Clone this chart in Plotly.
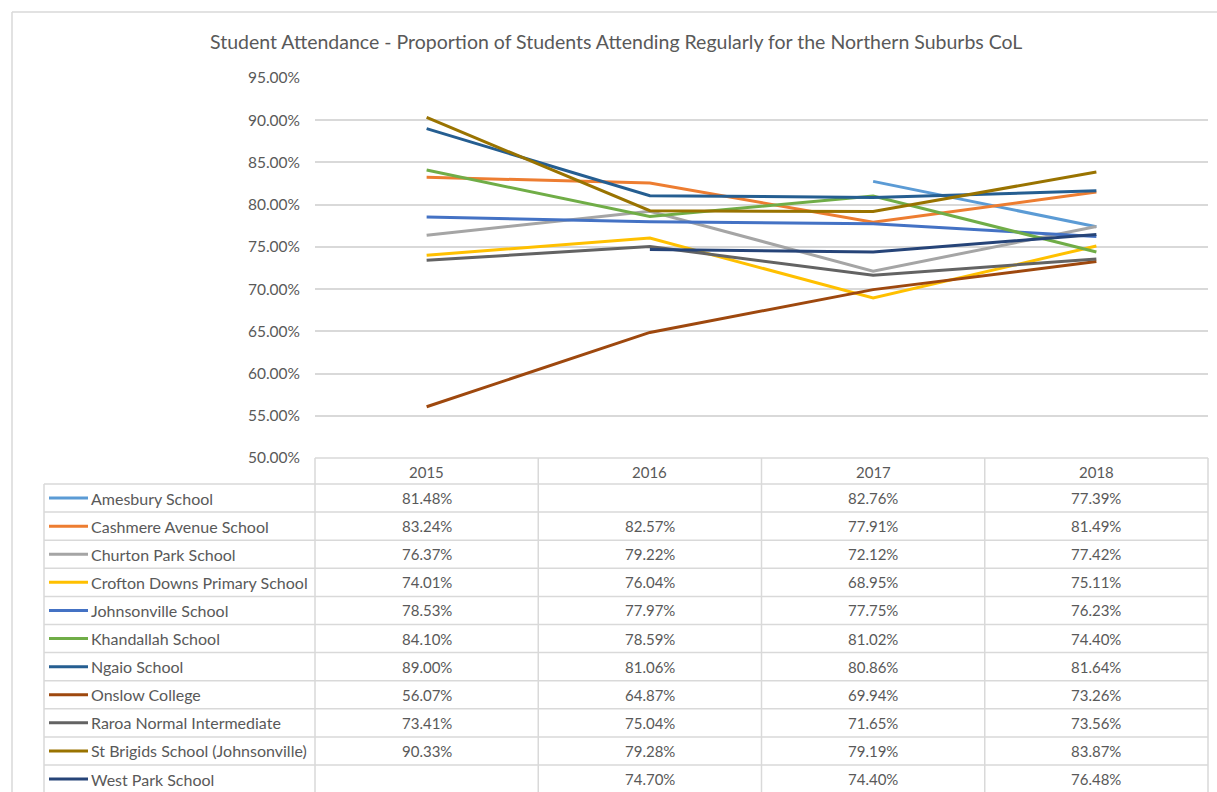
import plotly.graph_objects as go

years = ["2015", "2016", "2017", "2018"]
schools = [
    "Amesbury School",
    "Cashmere Avenue School",
    "Churton Park School",
    "Crofton Downs Primary School",
    "Johnsonville School",
    "Khandallah School",
    "Ngaio School",
    "Onslow College",
    "Raroa Normal Intermediate",
    "St Brigids School (Johnsonville)",
    "West Park School",
]
amesbury = [81.48, None, 82.76, 77.39]
cashmere = [83.24, 82.57, 77.91, 81.49]
churton = [76.37, 79.22, 72.12, 77.42]
crofton = [74.01, 76.04, 68.95, 75.11]
johnsonville = [78.53, 77.97, 77.75, 76.23]
khandallah = [84.10, 78.59, 81.02, 74.40]
ngaio = [89.00, 81.06, 80.86, 81.64]
onslow = [56.07, 64.87, 69.94, 73.26]
raroa = [73.41, 75.04, 71.65, 73.56]
stbrigids = [90.33, 79.28, 79.19, 83.87]
westpark = [None, 74.70, 74.40, 76.48]
series = [amesbury, cashmere, churton, crofton, johnsonville, khandallah,
          ngaio, onslow, raroa, stbrigids, westpark]
colors = ["#5B9BD5", "#ED7D31", "#A5A5A5", "#FFC000", "#4472C4", "#70AD47",
          "#255E91", "#9E480E", "#636363", "#997300", "#264478"]
y_ticks = [50, 55, 60, 65, 70, 75, 80, 85, 90, 95]

W, H = 1217, 792
FONT = "Lato"
TXT = "#595959"
GRID = "#D9D9D9"


def px(x):
    return x / W


def py(y):
    return 1 - y / H


# layout geometry (pixels)
PLOT_L, PLOT_R = 315, 1208
PLOT_T, PLOT_B = 78, 458
TABLE_L = 44
HEADER_B = 484
ROW_H = 28.1

fig = go.Figure()
for name, vals, col in zip(schools, series, colors):
    fig.add_trace(go.Scatter(
        x=years, y=vals, mode="lines", name=name,
        line=dict(color=col, width=3), connectgaps=False, showlegend=False,
    ))

shapes = []
annotations = []

# chart border
shapes.append(dict(type="line", xref="paper", yref="paper", x0=px(12), x1=px(1217),
                   y0=py(12), y1=py(12), line=dict(color=GRID, width=1.5)))
shapes.append(dict(type="line", xref="paper", yref="paper", x0=px(12), x1=px(12),
                   y0=py(12), y1=py(792), line=dict(color=GRID, width=1.5)))

# title
annotations.append(dict(
    text="Student Attendance - Proportion of Students Attending Regularly for the Northern Suburbs CoL",
    xref="paper", yref="paper", x=px(616), y=py(42), xanchor="center", yanchor="middle",
    showarrow=False, font=dict(family=FONT, size=19.5, color=TXT)))

# data table grid
col_edges = [PLOT_L + i * (PLOT_R - PLOT_L) / 4 for i in range(5)]
n_rows = len(schools)
row_edges = [HEADER_B + i * ROW_H for i in range(n_rows + 1)]
shapes.append(dict(type="line", xref="paper", yref="paper", x0=px(PLOT_L), x1=px(PLOT_R),
                   y0=py(PLOT_B), y1=py(PLOT_B), line=dict(color=GRID, width=1.5)))
for re in row_edges:
    shapes.append(dict(type="line", xref="paper", yref="paper", x0=px(TABLE_L), x1=px(PLOT_R),
                       y0=py(re), y1=py(re), line=dict(color=GRID, width=1.5)))
for ce in col_edges:
    shapes.append(dict(type="line", xref="paper", yref="paper", x0=px(ce), x1=px(ce),
                       y0=py(PLOT_B), y1=0, line=dict(color=GRID, width=1.5)))
shapes.append(dict(type="line", xref="paper", yref="paper", x0=px(TABLE_L), x1=px(TABLE_L),
                   y0=py(HEADER_B), y1=0, line=dict(color=GRID, width=1.5)))

# header labels
for i, yr in enumerate(years):
    annotations.append(dict(text=yr, xref="x", yref="paper", x=i, y=py((PLOT_B + HEADER_B) / 2 + 1),
                            xanchor="center", yanchor="middle", showarrow=False,
                            font=dict(family=FONT, size=15, color=TXT)))

# rows
for r, (name, vals, col) in enumerate(zip(schools, series, colors)):
    yc = HEADER_B + (r + 0.5) * ROW_H
    shapes.append(dict(type="line", xref="paper", yref="paper", x0=px(49), x1=px(88),
                       y0=py(yc), y1=py(yc), line=dict(color=col, width=3)))
    annotations.append(dict(text=name, xref="paper", yref="paper", x=px(89), y=py(yc),
                            xanchor="left", yanchor="middle", showarrow=False,
                            font=dict(family=FONT, size=16, color=TXT)))
    for i, v in enumerate(vals):
        if v is None:
            continue
        annotations.append(dict(text=f"{v:.2f}%", xref="x", yref="paper", x=i, y=py(yc),
                                xanchor="center", yanchor="middle", showarrow=False,
                                font=dict(family=FONT, size=15, color=TXT)))

fig.update_layout(
    template="none",
    width=W, height=H,
    margin=dict(l=0, r=0, t=0, b=0, pad=0, autoexpand=False),
    paper_bgcolor="white", plot_bgcolor="white",
    font=dict(family=FONT, color=TXT),
    shapes=shapes, annotations=annotations,
    xaxis=dict(domain=[px(PLOT_L), px(PLOT_R)], range=[-0.5, 3.5], type="category",
               showticklabels=False, showgrid=False, zeroline=False, showline=False, ticks="",
               automargin=False),
    yaxis=dict(domain=[py(PLOT_B), py(PLOT_T)], range=[50, 95], tickvals=y_ticks,
               ticktext=[f"{t:.2f}%" for t in y_ticks], showgrid=True, gridcolor=GRID, gridwidth=1.5,
               zeroline=False, showline=False, ticks="", ticklabelstandoff=14, automargin=False,
               tickfont=dict(family=FONT, size=15.5, color=TXT)),
    hovermode=False,
)

fig.write_html("out.html")
